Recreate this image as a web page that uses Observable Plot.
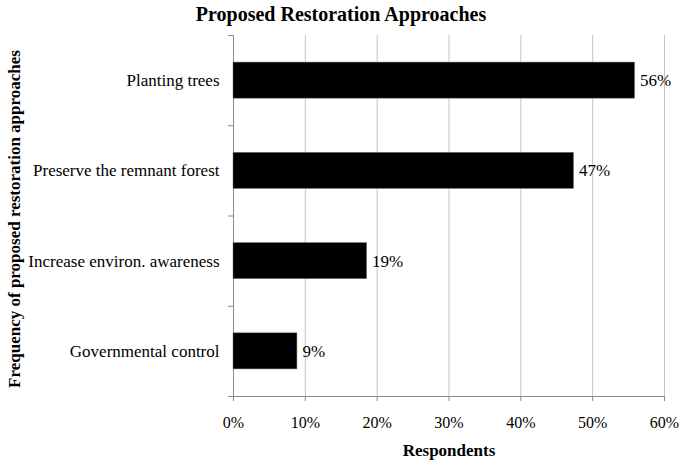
<!DOCTYPE html>
<html>
<head>
<meta charset="utf-8">
<script src="https://cdn.jsdelivr.net/npm/d3@7"></script>
<script src="https://cdn.jsdelivr.net/npm/@observablehq/plot@0.6"></script>
<style>
  html, body { margin: 0; padding: 0; background: white; }
</style>
</head>
<body>
<div id="chart"></div>
<script>
const categories = ["Planting trees", "Preserve the remnant forest", "Increase environ. awareness", "Governmental control"];
const values = [55.9, 47.4, 18.6, 8.9];
const valueLabels = ["56%", "47%", "19%", "9%"];
const xTicks = [0, 10, 20, 30, 40, 50, 60];
const title = "Proposed Restoration Approaches";
const xLabel = "Respondents";
const yLabel = "Frequency of proposed restoration approaches";

const data = categories.map((c, i) => ({i, category: c, value: values[i], label: valueLabels[i]}));
const idx = categories.map((c, i) => i);
const bounds = [-0.5, ...idx.map(i => i + 0.5)];
const font = "'Liberation Serif', 'Times New Roman', Times, serif";

const chart = Plot.plot({
  width: 685,
  height: 469,
  marginTop: 35,
  marginBottom: 73,
  marginLeft: 233,
  marginRight: 21,
  style: {fontFamily: font, fontSize: "16px", background: "white", color: "black"},
  x: {domain: [0, 60]},
  y: {domain: [3.5, -0.5]},
  marks: [
    Plot.gridX(xTicks.slice(1), {stroke: "#c4c4c4", strokeOpacity: 1}),
    Plot.ruleX([0], {stroke: "#8a8a8a"}),
    Plot.ruleY([3.5], {stroke: "#8a8a8a"}),
    Plot.rectX(data, {x1: 0, x2: "value", y1: d => d.i - 0.2, y2: d => d.i + 0.2, fill: "black", stroke: "#777", strokeWidth: 0.5}),
    Plot.text(data, {x: "value", y: "i", text: "label", textAnchor: "start", dx: 5, fontSize: 17, fill: "black"}),
    Plot.axisX({ticks: xTicks, tickFormat: d => d + "%", tickSize: 5, tickPadding: 15, stroke: "#8a8a8a", label: null, fill: "black", fontSize: 16}),
    Plot.axisY({ticks: idx, tickFormat: i => categories[i], tickSize: 0, tickPadding: 14, label: null, fill: "black", fontSize: 17}),
    Plot.axisY({ticks: bounds, tickFormat: () => "", tickSize: 5, stroke: "#8a8a8a", label: null}),
    Plot.text([title], {frameAnchor: "top", lineAnchor: "middle", textAnchor: "middle", dx: -108, dy: -21, fontWeight: "bold", fontSize: 20, fill: "black"}),
    Plot.text([xLabel], {frameAnchor: "bottom", lineAnchor: "middle", textAnchor: "middle", dy: 54, fontWeight: "bold", fontSize: 17, fill: "black"}),
    Plot.text([yLabel], {frameAnchor: "left", lineAnchor: "middle", textAnchor: "middle", dx: -219, dy: 3, rotate: -90, fontWeight: "bold", fontSize: 17, fill: "black"})
  ]
});
document.getElementById("chart").appendChild(chart);
</script>
</body>
</html>
